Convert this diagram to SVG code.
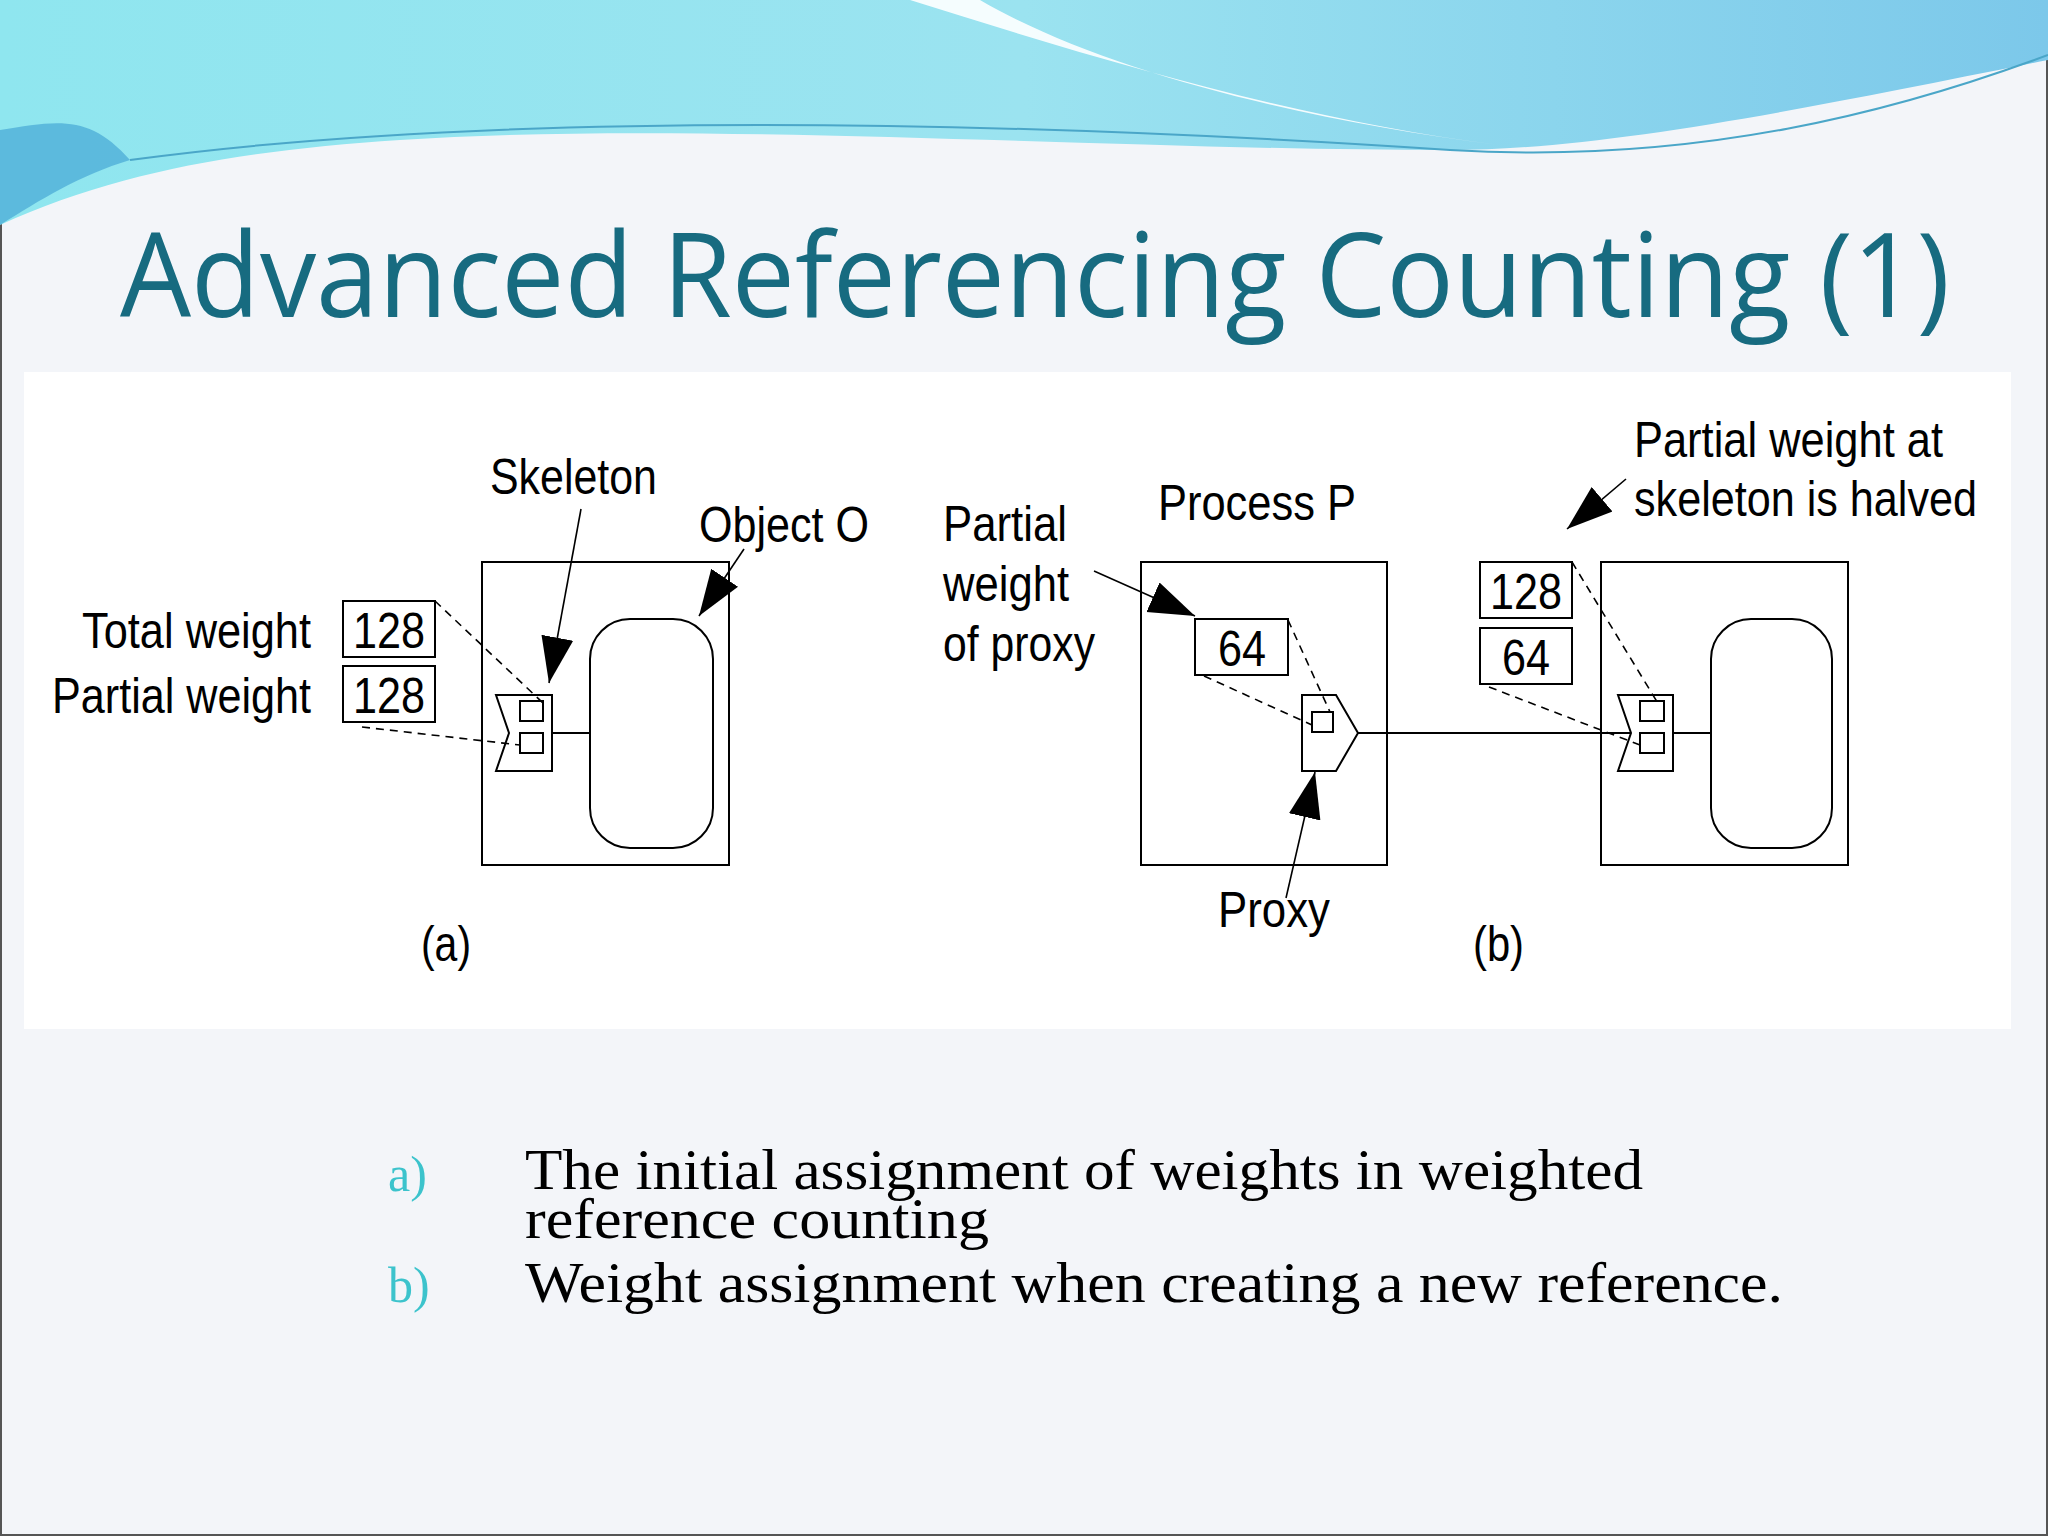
<svg xmlns="http://www.w3.org/2000/svg" width="2048" height="1536" viewBox="0 0 2048 1536">
<defs>
<linearGradient id="sky" x1="0" y1="0" x2="1" y2="0">
<stop offset="0" stop-color="#8fe6ef"/><stop offset="0.5" stop-color="#9be3f0"/><stop offset="1" stop-color="#7cc8ea"/>
</linearGradient>
<marker id="ah" viewBox="0 0 10 10" refX="10" refY="5" markerWidth="46" markerHeight="46" markerUnits="userSpaceOnUse" orient="auto">
<path d="M0,1.5 L10,5 L0,8.5 z" fill="#000"/>
</marker>
<style>
.l{font-family:"Liberation Sans",Arial,sans-serif;font-size:50px;fill:#000}
.b{fill:#fff;stroke:#000;stroke-width:2}
.n{fill:none;stroke:#000;stroke-width:2}
.d{fill:none;stroke:#000;stroke-width:1.6;stroke-dasharray:8 6}
.a{fill:none;stroke:#000;stroke-width:1.6;marker-end:url(#ah)}
.s{font-family:"Liberation Serif","Times New Roman",serif;font-size:56px;fill:#000}
</style>
</defs>
<rect width="2048" height="1536" fill="#f3f5f9"/>
<rect x="1" y="1" width="2046" height="1534" fill="none" stroke="#555" stroke-width="2"/>
<g id="header">
<path d="M0,0 H2048 V60 C1800,110 1600,150 1450,150 C1100,150 700,120 400,140 C250,150 120,170 0,225 Z" fill="url(#sky)"/>
<path d="M910,0 C1100,60 1300,120 1500,145 C1300,120 1100,70 980,0 Z" fill="#ffffff" opacity="0.9"/>
<path d="M0,130 C60,120 90,115 130,160 C80,175 40,200 0,225 Z" fill="#3a9cd0" opacity="0.6"/>
<path d="M130,160 C500,110 1000,120 1450,150 C1700,165 1900,110 2048,55" fill="none" stroke="#4aa6c8" stroke-width="2"/>
</g>
<text id="title" x="120" y="317" font-family="Open Sans,Lato,sans-serif" font-size="118" fill="#176b80" textLength="1830" lengthAdjust="spacingAndGlyphs">Advanced Referencing Counting (1)</text>
<rect x="24" y="372" width="1987" height="657" fill="#fff"/>
<g id="panel-a">
<rect class="b" x="482" y="562" width="247" height="303"/>
<rect id="objectO" class="b" x="590" y="619" width="123" height="229" rx="40"/>
<line class="n" x1="552" y1="733" x2="590" y2="733"/>
<path class="b" d="M496,695 H552 V771 H496 L509,733 Z"/>
<rect class="b" x="520" y="701" width="23" height="20"/>
<rect class="b" x="520" y="733" width="23" height="20"/>
<rect class="b" x="343" y="601" width="92" height="56"/>
<rect class="b" x="343" y="666" width="92" height="56"/>
<text class="l" x="353" y="648" textLength="72" lengthAdjust="spacingAndGlyphs">128</text>
<text class="l" x="353" y="713" textLength="72" lengthAdjust="spacingAndGlyphs">128</text>
<text class="l" x="311" y="648" text-anchor="end" textLength="229" lengthAdjust="spacingAndGlyphs">Total weight</text>
<text class="l" x="311" y="713" text-anchor="end" textLength="259" lengthAdjust="spacingAndGlyphs">Partial weight</text>
<text class="l" x="490" y="494" textLength="167" lengthAdjust="spacingAndGlyphs">Skeleton</text>
<text class="l" x="699" y="542" textLength="170" lengthAdjust="spacingAndGlyphs">Object O</text>
<text class="l" x="421" y="961" textLength="50" lengthAdjust="spacingAndGlyphs">(a)</text>
</g>
<g id="panel-b">
<rect class="b" x="1141" y="562" width="246" height="303"/>
<rect class="b" x="1195" y="619" width="93" height="56"/>
<text class="l" x="1218" y="666" textLength="48" lengthAdjust="spacingAndGlyphs">64</text>
<path class="b" d="M1302,695 H1336 L1358,733 L1336,771 H1302 Z"/>
<rect class="b" x="1312" y="712" width="21" height="20"/>
<rect class="b" x="1601" y="562" width="247" height="303"/>
<rect class="b" x="1711" y="619" width="121" height="229" rx="40"/>
<line class="n" x1="1673" y1="733" x2="1711" y2="733"/>
<path class="b" d="M1618,695 H1673 V771 H1618 L1631,733 Z"/>
<rect class="b" x="1640" y="701" width="24" height="20"/>
<rect class="b" x="1640" y="733" width="24" height="20"/>
<rect class="b" x="1480" y="562" width="92" height="56"/>
<rect class="b" x="1480" y="628" width="92" height="56"/>
<text class="l" x="1490" y="609" textLength="72" lengthAdjust="spacingAndGlyphs">128</text>
<text class="l" x="1502" y="675" textLength="48" lengthAdjust="spacingAndGlyphs">64</text>
<text class="l" x="943" y="541" textLength="124" lengthAdjust="spacingAndGlyphs">Partial</text>
<text class="l" x="943" y="601" textLength="126" lengthAdjust="spacingAndGlyphs">weight</text>
<text class="l" x="943" y="661" textLength="152" lengthAdjust="spacingAndGlyphs">of proxy</text>
<text class="l" x="1158" y="520" textLength="198" lengthAdjust="spacingAndGlyphs">Process P</text>
<text class="l" x="1218" y="927" textLength="112" lengthAdjust="spacingAndGlyphs">Proxy</text>
<text class="l" x="1634" y="457" textLength="309" lengthAdjust="spacingAndGlyphs">Partial weight at</text>
<text class="l" x="1634" y="516" textLength="343" lengthAdjust="spacingAndGlyphs">skeleton is halved</text>
<text class="l" x="1473" y="961" textLength="51" lengthAdjust="spacingAndGlyphs">(b)</text>
</g>
<g id="connectors">
<path class="d" d="M435,601 L543,703"/>
<path class="d" d="M362,727 L520,745"/>
<path class="a" d="M581,509 L549,683"/>
<path class="a" d="M744,549 L699,616"/>
<path class="d" d="M1288,620 L1330,712"/>
<path class="d" d="M1204,676 L1312,725"/>
<line class="n" x1="1358" y1="733" x2="1631" y2="733"/>
<path class="d" d="M1572,562 L1659,705"/>
<path class="d" d="M1489,687 L1640,745"/>
<path class="a" d="M1094,571 L1195,616"/>
<path class="a" d="M1286,898 L1315,772"/>
<path class="a" d="M1626,479 L1567,529"/>
</g>
<g id="captions">
<text x="388" y="1191" font-family="Liberation Serif,serif" font-size="50" fill="#3cc3cc">a)</text>
<text class="s" x="525" y="1189" textLength="1118" lengthAdjust="spacingAndGlyphs">The initial assignment of weights in weighted</text>
<text class="s" x="525" y="1238" textLength="464" lengthAdjust="spacingAndGlyphs">reference counting</text>
<text x="388" y="1302" font-family="Liberation Serif,serif" font-size="50" fill="#3cc3cc">b)</text>
<text class="s" x="525" y="1302" textLength="1258" lengthAdjust="spacingAndGlyphs">Weight assignment when creating a new reference.</text>
</g>
</svg>
